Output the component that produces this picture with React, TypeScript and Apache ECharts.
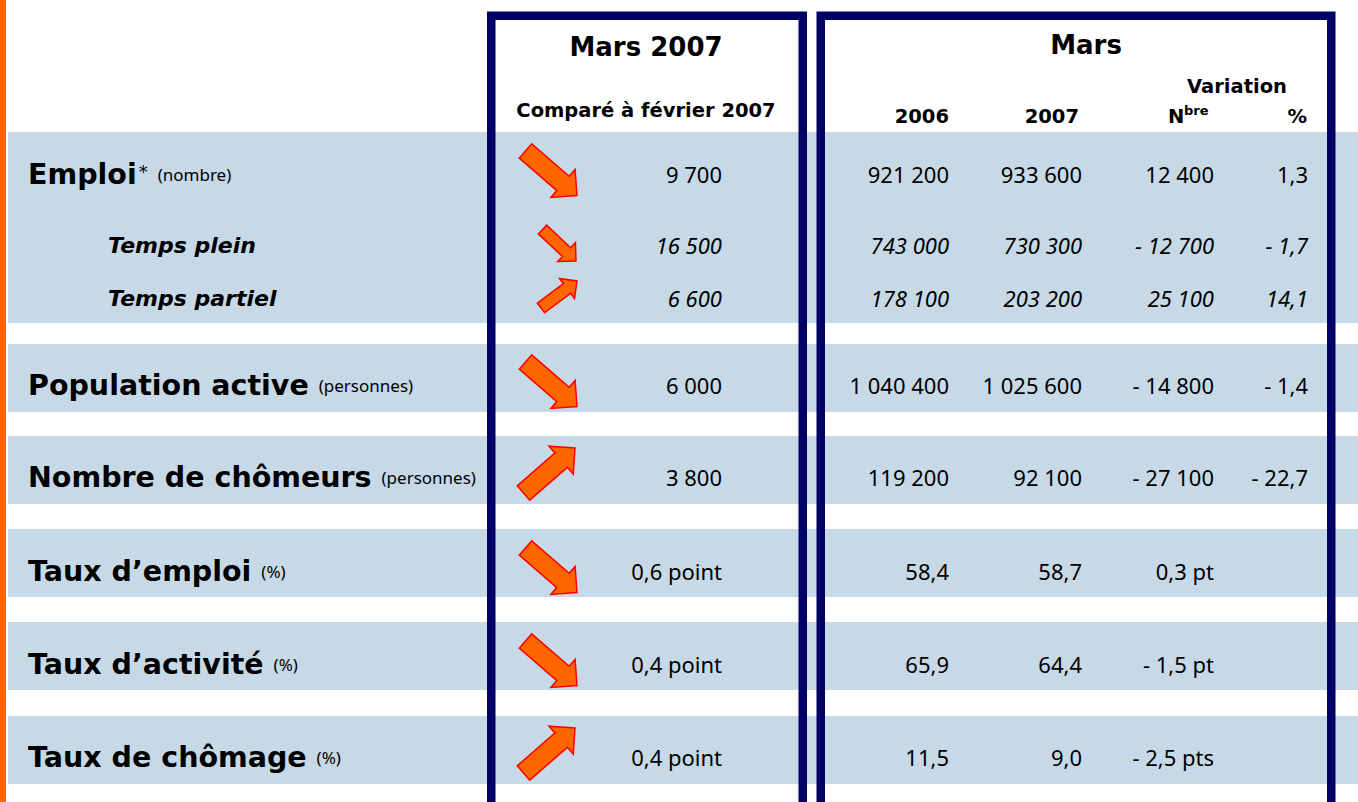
import React, { useEffect, useRef } from "react";
import * as echarts from "echarts";

// ---------- data ----------
const rowLabels = [
  "Emploi",
  "Temps plein",
  "Temps partiel",
  "Population active",
  "Nombre de chômeurs",
  "Taux d’emploi",
  "Taux d’activité",
  "Taux de chômage",
];
const rowUnits = ["(nombre)", "", "", "(personnes)", "(personnes)", "(%)", "(%)", "(%)"];
const rowIsSub = [false, true, true, false, false, false, false, false];
const monthChange = ["9 700", "16 500", "6 600", "6 000", "3 800", "0,6 point", "0,4 point", "0,4 point"];
const monthDirection = ["down", "down", "up", "down", "up", "down", "down", "up"];
const values2006 = ["921 200", "743 000", "178 100", "1 040 400", "119 200", "58,4", "65,9", "11,5"];
const values2007 = ["933 600", "730 300", "203 200", "1 025 600", "92 100", "58,7", "64,4", "9,0"];
const variationCount = ["12 400", "- 12 700", "25 100", "- 14 800", "- 27 100", "0,3 pt", "- 1,5 pt", "- 2,5 pts"];
const variationPct = ["1,3", "- 1,7", "14,1", "- 1,4", "- 22,7", "", "", ""];
const box1Title = "Mars 2007";
const box1Subtitle = "Comparé à février 2007";
const box2Title = "Mars";
const variationTitle = "Variation";
const yearHeaders = ["2006", "2007"];

// ---------- layout ----------
const W = 1358;
const H = 802;
const rowY = [174, 245, 298, 385, 477, 571, 664, 757];
const bands = [
  [132, 323],
  [344, 412],
  [436, 504],
  [529, 597],
  [622, 690],
  [716, 784],
];
const NAVY = "#000066";
const BAND = "#C7D9E7";
const BOLD = "'DejaVu Sans', sans-serif";
const REG = "'Noto Sans', 'Open Sans', sans-serif";

function arrowPoints(tx: number, ty: number, px: number, py: number, sw: number, hw: number, hl: number) {
  const dx = px - tx;
  const dy = py - ty;
  const L = Math.sqrt(dx * dx + dy * dy);
  const c = dx / L;
  const s = dy / L;
  const local = [
    [0, -sw / 2],
    [L - hl, -sw / 2],
    [L - hl, -hw / 2],
    [L, 0],
    [L - hl, hw / 2],
    [L - hl, sw / 2],
    [0, sw / 2],
  ];
  return local.map(([x, y]) => [tx + x * c - y * s, ty + x * s + y * c]);
}

function arrowFor(i: number) {
  const yc = rowY[i];
  const up = monthDirection[i] === "up";
  const small = rowIsSub[i];
  let pts;
  if (small) {
    pts = up
      ? arrowPoints(541, yc + 10, 577, yc - 17, 12, 25, 12.5)
      : arrowPoints(542.5, yc - 15.5, 576, yc + 16, 12, 26, 13);
  } else {
    pts = up
      ? arrowPoints(523.5, yc + 16, 575, yc - 29, 19, 37, 18.5)
      : arrowPoints(525.5, yc - 23, 577, yc + 21.5, 19, 37, 18.5);
  }
  return {
    type: "polygon",
    shape: { points: pts },
    style: { fill: "#FF6600", stroke: "#FF0000", lineWidth: 1.5 },
    z: 5,
  };
}

function txt(
  text: string,
  x: number,
  y: number,
  opts: { size: number; bold?: boolean; italic?: boolean; align?: string; family?: string }
) {
  return {
    type: "text",
    x,
    y,
    z: 10,
    style: {
      text,
      fill: "#000000",
      fontSize: opts.size,
      fontFamily: opts.family || (opts.bold ? BOLD : REG),
      fontWeight: opts.bold ? "bold" : "normal",
      fontStyle: opts.italic ? "italic" : "normal",
      align: opts.align || "left",
      verticalAlign: "middle",
    },
  };
}

function buildGraphics() {
  const g: any[] = [];
  g.push({ type: "rect", shape: { x: 0, y: 0, width: W, height: H }, style: { fill: "#FFFFFF" }, z: 0 });
  g.push({ type: "rect", shape: { x: 0, y: 0, width: 6, height: H }, style: { fill: "#FF6600" }, z: 1 });
  bands.forEach(([t, b]) => {
    g.push({ type: "rect", shape: { x: 8, y: t, width: W - 8, height: b - t }, style: { fill: BAND }, z: 1 });
  });
  // boxes
  g.push({
    type: "rect",
    shape: { x: 491.25, y: 15.75, width: 311.5, height: 830 },
    style: { fill: "none", stroke: NAVY, lineWidth: 8.5 },
    z: 3,
  });
  g.push({
    type: "rect",
    shape: { x: 820.75, y: 15.75, width: 510.5, height: 830 },
    style: { fill: "none", stroke: NAVY, lineWidth: 8.5 },
    z: 3,
  });

  // headers
  g.push(txt(box1Title, 646, 47, { size: 26, bold: true, align: "center" }));
  g.push(txt(box1Subtitle, 646, 110, { size: 19.5, bold: true, align: "center" }));
  g.push(txt(box2Title, 1086, 45, { size: 26, bold: true, align: "center" }));
  g.push(txt(variationTitle, 1237, 86, { size: 19.5, bold: true, align: "center" }));
  g.push(txt(yearHeaders[0], 949, 116, { size: 19.5, bold: true, align: "right" }));
  g.push(txt(yearHeaders[1], 1079, 116, { size: 19.5, bold: true, align: "right" }));
  g.push(txt("N", 1168, 116, { size: 19.5, bold: true, align: "left" }));
  g.push(txt("bre", 1184, 110, { size: 13, bold: true, align: "left" }));
  g.push(txt("%", 1307, 116, { size: 19.5, bold: true, align: "right" }));

  // rows
  rowLabels.forEach((label, i) => {
    const y = rowY[i];
    const sub = rowIsSub[i];
    if (sub) {
      g.push(txt(label, 108, y, { size: 22, bold: true, italic: true }));
    } else {
      const star = i === 0;
      g.push({
        type: "text",
        x: 28,
        y,
        z: 10,
        style: {
          text: star
            ? `{a|${label}}{s|*}{c|${rowUnits[i]}}`
            : `{a|${label} }{b|${rowUnits[i]}}`,
          fill: "#000",
          align: "left",
          verticalAlign: "middle",
          rich: {
            a: { fontFamily: BOLD, fontWeight: "bold", fontSize: 28.5, lineHeight: 34, fill: "#000" },
            s: { fontFamily: BOLD, fontSize: 18, lineHeight: 34, verticalAlign: "top", padding: [5, 0, 0, 2], fill: "#000" },
            b: { fontFamily: REG, fontSize: 17, lineHeight: 34, padding: [0, 0, 0, 0], fill: "#000" },
            c: { fontFamily: REG, fontSize: 17, lineHeight: 34, padding: [0, 0, 0, 10], fill: "#000" },
          },
        },
      });
    }
    const it = sub;
    g.push(arrowFor(i));
    g.push(txt(monthChange[i], 722, y, { size: 22, italic: it, align: "right" }));
    g.push(txt(values2006[i], 949, y, { size: 22, italic: it, align: "right" }));
    g.push(txt(values2007[i], 1082, y, { size: 22, italic: it, align: "right" }));
    g.push(txt(variationCount[i], 1214, y, { size: 22, italic: it, align: "right" }));
    if (variationPct[i]) g.push(txt(variationPct[i], 1308, y, { size: 22, italic: it, align: "right" }));
  });
  return g;
}

export default function App() {
  const ref = useRef<HTMLDivElement>(null);
  useEffect(() => {
    document.body.style.margin = "0";
    if (!ref.current) return;
    const chart = echarts.init(ref.current, undefined, { renderer: "svg", width: W, height: H });
    chart.setOption({
      animation: false,
      backgroundColor: "#FFFFFF",
      graphic: { elements: buildGraphics() },
    });
    return () => chart.dispose();
  }, []);
  return <div ref={ref} style={{ width: W, height: H }} />;
}
